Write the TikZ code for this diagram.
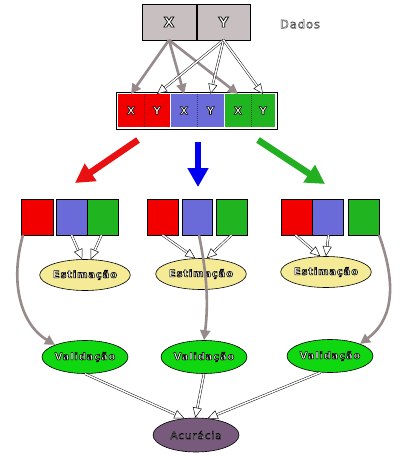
\documentclass[tikz,border=0pt]{standalone}
\usepackage{fontspec}
\setmainfont{DejaVu Sans}
\newfontfamily\lblfont{DejaVu Sans}[LetterSpace=8]
\usetikzlibrary{arrows.meta,shapes.geometric}

\definecolor{boxgray}{HTML}{C8C0C0}
\definecolor{cred}{HTML}{F20000}
\definecolor{cblue}{HTML}{6A6AD8}
\definecolor{cgreen}{HTML}{20B420}
\definecolor{cyel}{HTML}{F5EB96}
\definecolor{cval}{HTML}{10D810}
\definecolor{cacu}{HTML}{785A7D}
\definecolor{agray}{HTML}{968A8A}
\definecolor{darrred}{HTML}{E81010}
\definecolor{darrblue}{HTML}{0000F0}
\definecolor{darrgreen}{HTML}{22B022}

% outlined text: white fill, coloured stroke (text render mode 2)
\newcommand\otext[3][0 0 0]{{\color{white}\special{pdf:literal direct #1 RG 2 Tr #2 w}#3\special{pdf:literal direct 0 Tr}}}

\begin{document}
\begin{tikzpicture}[x=1pt,y=-1pt,
  cell/.style={draw=black, line width=0.6pt, anchor=north west, inner sep=0pt, outer sep=0pt},
  seg/.style={anchor=north west, inner sep=0pt, outer sep=0pt, minimum height=33pt},
  ell/.style={ellipse, draw=black, line width=0.6pt, minimum width=86pt, minimum height=31pt, inner sep=0pt},
  elltext/.style={font=\lblfont\fontsize{10}{12}\selectfont\bfseries},
  garrow/.style={draw=agray, line width=2.6pt, -{Triangle[length=10pt,width=10pt]}},
  warrow/.style={draw=black, line width=0.45pt, double=white, double distance=1.5pt, -{Triangle[open, fill=white, length=10pt, width=9pt]}},
  bigarrow/.style={line width=6.5pt, -{Triangle[length=19pt,width=20pt]}},
]
\useasboundingbox (0,0) rectangle (408,455);

% top data box
\node[cell, fill=boxgray, minimum width=54pt, minimum height=36pt] (X) at (142,4) {\otext{0.7}{\fontsize{14}{15}\selectfont\bfseries X}};
\node[cell, fill=boxgray, minimum width=53pt, minimum height=36pt] (Y) at (197,4) {\otext{0.7}{\fontsize{14}{15}\selectfont\bfseries Y}};
\node (dados) at (300,24) {\otext[0.3 0.3 0.3]{0.45}{\lblfont\fontsize{11.5}{13}\selectfont Dados}};

% row of folds
\node[cell, fill=white, minimum width=161pt, minimum height=37pt] (row) at (116,92) {};
\node[seg, fill=cred, minimum width=26pt] (r1x) at (118,94) {\otext{0.6}{\fontsize{10.5}{12}\selectfont\bfseries X}};
\node[seg, fill=cred, minimum width=26pt] (r1y) at (144,94) {\otext{0.6}{\fontsize{10.5}{12}\selectfont\bfseries Y}};
\node[seg, fill=cblue, minimum width=26pt] (b2x) at (171,94) {\otext{0.6}{\fontsize{10.5}{12}\selectfont\bfseries X}};
\node[seg, fill=cblue, minimum width=27pt] (b2y) at (197,94) {\otext{0.6}{\fontsize{10.5}{12}\selectfont\bfseries Y}};
\node[seg, fill=cgreen, minimum width=26pt] (g3x) at (225,94) {\otext{0.6}{\fontsize{10.5}{12}\selectfont\bfseries X}};
\node[seg, fill=cgreen, minimum width=24pt] (g3y) at (251,94) {\otext{0.6}{\fontsize{10.5}{12}\selectfont\bfseries Y}};
\draw[cred!50!black, densely dotted, line width=1pt] (r1y.north west) -- (r1y.south west);
\draw[cblue!50!black, densely dotted, line width=1pt] (b2y.north west) -- (b2y.south west);
\draw[cgreen!50!black, densely dotted, line width=1pt] (g3y.north west) -- (g3y.south west);

% arrows from data to folds
\draw[garrow] (X.south) -- (r1x.north);
\draw[garrow] (X.south) -- (b2x.north);
\draw[garrow] (X.south) -- (g3x.north);
\draw[warrow] (Y.south) -- (r1y.north);
\draw[warrow] (Y.south) -- (b2y.north);
\draw[warrow] (Y.south) -- (g3y.north);

% big arrows
\coordinate (rs) at (138,140); \coordinate (re) at (75,183);
\coordinate (bs) at (198,142); \coordinate (be) at (198,187);
\coordinate (gs) at (258,140); \coordinate (ge) at (325,184);
\draw[bigarrow, darrred] (rs) -- (re);
\draw[bigarrow, darrblue] (bs) -- (be);
\draw[bigarrow, darrgreen] (gs) -- (ge);

% group 1
\node[cell, fill=cred, minimum width=32pt, minimum height=36pt] (a1) at (21,199) {};
\node[cell, fill=cblue, minimum width=31pt, minimum height=36pt] (a2) at (56,199) {};
\node[cell, fill=cgreen, minimum width=31pt, minimum height=36pt] (a3) at (87,199) {};
% group 2
\node[cell, fill=cred, minimum width=31pt, minimum height=36pt] (b1) at (147,199) {};
\node[cell, fill=cblue, minimum width=30pt, minimum height=36pt] (b2) at (182,199) {};
\node[cell, fill=cgreen, minimum width=31pt, minimum height=36pt] (b3) at (216,199) {};
% group 3
\node[cell, fill=cred, minimum width=31pt, minimum height=36pt] (c1) at (281,199) {};
\node[cell, fill=cblue, minimum width=31pt, minimum height=36pt] (c2) at (312,199) {};
\node[cell, fill=cgreen, minimum width=31pt, minimum height=36pt] (c3) at (348,199) {};

% estimation
\node[ell, fill=cyel, elltext] (E1) at (85,275) {\otext{0.6}{Estimação}};
\node[ell, fill=cyel, elltext] (E2) at (201,274) {\otext{0.6}{Estimação}};
\node[ell, fill=cyel, elltext] (E3) at (326,272) {\otext{0.6}{Estimação}};

% validation
\node[ell, fill=cval, elltext, minimum height=33pt] (V1) at (85,357) {\otext{0.6}{Validação}};
\node[ell, fill=cval, elltext, minimum height=33pt] (V2) at (204,357) {\otext{0.6}{Validação}};
\node[ell, fill=cval, elltext, minimum height=33pt] (V3) at (330,356) {\otext{0.6}{Validação}};

% accuracy
\node[ell, fill=cacu, minimum height=34pt, font=\lblfont\fontsize{10.5}{12}\selectfont] (A) at (196,435) {\otext{0.45}{Acurácia}};

% arrows to estimation
\draw[warrow] (a2.south) -- (E1.100);
\draw[warrow] ([xshift=-1pt]a3.south) -- (E1.70);
\draw[warrow] (b1.south) -- (E2.110);
\draw[warrow] (b3.south) -- (E2.70);
\draw[warrow] ([xshift=-1pt]c1.south) -- (E3.110);
\draw[warrow] ([xshift=1pt]c2.south) -- (E3.90);

% curved gray arrows
\draw[garrow] ([xshift=2pt]a1.south west) .. controls (9,285) and (22,325) .. (V1.158);
\draw[garrow] ([xshift=2pt]b2.south) .. controls (206,270) and (209,300) .. (V2.north);
\draw[garrow] (c3.south east) .. controls (399,290) and (390,322) .. (V3.22);

% arrows to accuracy
\draw[warrow] (V1.south) -- (A.125);
\draw[warrow] (V2.south) -- (A.92);
\draw[warrow] (V3.240) -- (A.55);
\end{tikzpicture}
\end{document}
